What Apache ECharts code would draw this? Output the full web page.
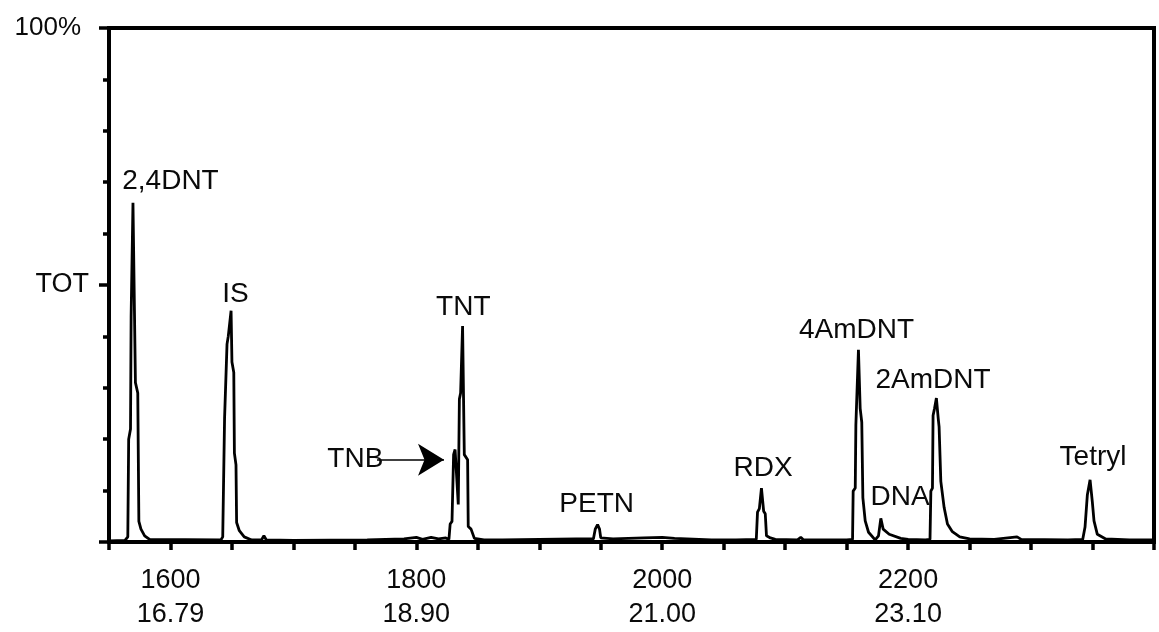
<!DOCTYPE html>
<html>
<head>
<meta charset="utf-8">
<script src="https://cdn.jsdelivr.net/npm/echarts@6/dist/echarts.min.js"></script>
<style>
  html, body { margin: 0; padding: 0; background: #fff; }
  #chart { width: 1159px; height: 632px; }
</style>
</head>
<body>
<div id="chart"></div>
<script>
// scan number and total ion current (% of full scale)
const scans = [
  1550, 1563, 1564.5, 1565.3, 1566, 1567.5, 1568, 1569.5, 1571.5, 1573.4, 1574.3, 1576, 1579, 1583,
  1641, 1642.5, 1644, 1646, 1647, 1649.3, 1650, 1651.5, 1652, 1653.3, 1653.8, 1656, 1660, 1666,
  1674, 1676, 1678, 1700, 1760, 1790, 1800, 1805, 1812, 1818, 1824,
  1826.5, 1827.5, 1829, 1830.3, 1831.5, 1834.1, 1835, 1836, 1837.6, 1839, 1841.7, 1842.2, 1844.5, 1847.2, 1855,
  1870, 1900, 1930, 1944, 1945.5, 1947.4, 1949, 1950, 1960, 1985, 2000, 2010, 2040, 2060,
  2076.5, 2077.5, 2079, 2080.7, 2082.5, 2083.8, 2084.8, 2088, 2092, 2110, 2112.7, 2115, 2150,
  2154.8, 2155.3, 2157, 2157.5, 2159.6, 2161, 2162.3, 2163.2, 2165.1, 2167.8, 2173.2,
  2175.9, 2177.8, 2179.7, 2184.6, 2194, 2200, 2214,
  2217.8, 2218.5, 2219.8, 2220.3, 2221.5, 2223, 2224.5, 2225.2, 2226.6, 2229.3, 2232, 2236, 2242, 2250,
  2270, 2288.6, 2292, 2330,
  2342, 2343.9, 2345.8, 2348, 2349.8, 2351.2, 2353.9, 2360.7, 2380, 2400
];
const tot = [
  0.2, 0.3, 0.4, 1, 20, 22, 44, 66, 31, 29, 4, 2.5, 1.2, 0.5,
  0.4, 1, 24, 38.5, 40, 45, 35, 33, 17.3, 15, 3.8, 2.2, 1, 0.4,
  0.4, 1.2, 0.4, 0.3, 0.4, 0.6, 0.9, 0.5, 0.9, 0.6, 0.8,
  0.5, 3.5, 4, 17, 18, 7.3, 27.8, 29, 42, 17, 16, 3, 2.5, 0.7, 0.4,
  0.4, 0.5, 0.6, 0.6, 2.5, 3.4, 2.5, 0.8, 0.6, 0.8, 0.9, 0.7, 0.4, 0.4,
  0.5, 5.8, 6.5, 10.5, 6, 5.5, 1.2, 0.8, 0.5, 0.4, 0.9, 0.4, 0.4,
  0.5, 9.9, 10.5, 22.7, 37.4, 26, 23.3, 8.6, 4.1, 1.9, 0.4,
  1.2, 4.6, 2.5, 1.5, 0.7, 0.5, 0.4,
  0.5, 9.9, 10.5, 24.6, 26, 28, 24, 22.4, 11.8, 6.7, 3.5, 2, 1, 0.6,
  0.5, 1, 0.5, 0.4,
  0.5, 2.9, 9.2, 12.1, 7.9, 4.1, 1.5, 0.6, 0.4, 0.4
];

// x tick labels: scan number over retention time (min)
const tickScans = [1600, 1800, 2000, 2200];
const tickTimes = ['16.79', '18.90', '21.00', '23.10'];

// peak annotations (centre of the text, in scan / % units)
const peakNames = ['2,4DNT', 'IS', 'TNT', 'TNB', 'PETN', 'RDX', '4AmDNT', '2AmDNT', 'DNA', 'Tetryl'];
const peakLabelScan = [1600, 1652.8, 1838.2, 1750.4, 1946.7, 2082.1, 2158.1, 2220.3, 2193.5, 2350.4];
const peakLabelLevel = [70.2, 48.1, 45.6, 16.0, 7.3, 14.4, 41.2, 31.5, 8.7, 16.5];

// TNB arrow from label to peak
const tnbArrow = [[1768, 16.0], [1822.5, 16.0]];

const FONT = 'Liberation Sans';
const INK = '#0a0a0a';

const chart = echarts.init(document.getElementById('chart'), null, { renderer: 'canvas' });

chart.setOption({
  animation: false,
  backgroundColor: '#fff',
  grid: {
    left: 109, right: 5, top: 28, bottom: 83,
    show: true, borderColor: '#000', borderWidth: 4
  },
  xAxis: {
    type: 'value',
    min: 1550,
    max: 2400,
    interval: 50,
    axisLine: { lineStyle: { color: '#000', width: 4 } },
    axisTick: { inside: false, length: 8, lineStyle: { color: '#000', width: 3.5 } },
    splitLine: { show: false },
    axisLabel: {
      margin: 22,
      fontFamily: FONT,
      fontSize: 27,
      lineHeight: 34,
      color: INK,
      formatter: v => {
        const i = tickScans.indexOf(v);
        return i < 0 ? '' : v + '\n' + tickTimes[i];
      }
    }
  },
  yAxis: {
    type: 'value',
    min: 0,
    max: 100,
    interval: 50,
    axisLine: { lineStyle: { color: '#000', width: 4 } },
    axisTick: { length: 10, lineStyle: { color: '#000', width: 3.5 } },
    minorTick: { show: true, splitNumber: 5, length: 6, lineStyle: { color: '#000', width: 3.5 } },
    splitLine: { show: false },
    axisLabel: {
      margin: 20,
      fontFamily: FONT,
      fontSize: 27,
      color: INK,
      formatter: v => (v === 100 ? '{a|100%}' : v === 50 ? 'TOT' : ''),
      rich: { a: { fontFamily: FONT, fontSize: 26, color: INK, padding: [0, 8, 0, 0] } }
    }
  },
  series: [{
    type: 'line',
    data: scans.map((s, i) => [s, tot[i]]),
    symbol: 'none',
    lineStyle: { color: '#000', width: 2.8 },
    z: 3,
    markPoint: {
      symbol: 'circle',
      symbolSize: 1,
      itemStyle: { color: 'rgba(0,0,0,0)' },
      label: {
        show: true,
        position: 'inside',
        fontFamily: FONT,
        fontSize: 28,
        color: INK,
        formatter: p => p.name
      },
      data: peakNames.map((n, i) => ({ name: n, coord: [peakLabelScan[i], peakLabelLevel[i]] }))
    },
    markLine: {
      silent: true,
      symbol: ['none', 'arrow'],
      symbolSize: [24, 26],
      label: { show: false },
      lineStyle: { color: '#000', width: 1.5, type: 'solid' },
      itemStyle: { color: '#000' },
      data: [[{ coord: tnbArrow[0] }, { coord: tnbArrow[1] }]]
    }
  }]
});
</script>
</body>
</html>
